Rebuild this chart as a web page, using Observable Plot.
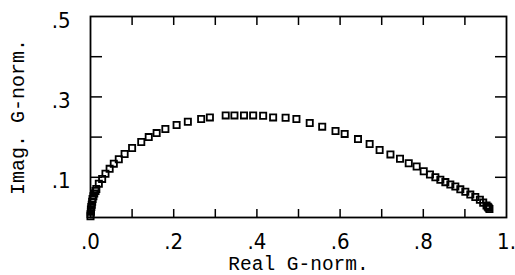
<!DOCTYPE html>
<html>
<head>
<meta charset="utf-8">
<script src="https://cdn.jsdelivr.net/npm/d3@7"></script>
<script src="https://cdn.jsdelivr.net/npm/@observablehq/plot@0.6"></script>
<style>
  html, body { margin: 0; padding: 0; background: #fff; }
  #chart svg { display: block; }
</style>
</head>
<body>
<div id="chart"></div>
<script>
// Real part of normalized G
const realG = [
  0.000, 0.000, 0.001, 0.001, 0.002, 0.003, 0.004, 0.005, 0.007, 0.009, 0.012,
  0.014, 0.020, 0.028, 0.036, 0.046, 0.056, 0.068, 0.082, 0.100, 0.122,
  0.140, 0.159, 0.180, 0.207, 0.234, 0.266, 0.287, 0.325, 0.346, 0.369,
  0.391, 0.415, 0.439, 0.469, 0.495, 0.527, 0.557, 0.589, 0.611, 0.643,
  0.671, 0.695, 0.721, 0.744, 0.765, 0.784, 0.801, 0.816, 0.829, 0.841,
  0.853, 0.865, 0.877, 0.889, 0.901, 0.913, 0.925, 0.936, 0.944, 0.952,
  0.955, 0.957, 0.959
];
// Imaginary part of normalized G
const imagG = [
  0.003, 0.008, 0.014, 0.020, 0.026, 0.032, 0.039, 0.046, 0.053, 0.060, 0.066,
  0.071, 0.084, 0.096, 0.109, 0.121, 0.134, 0.145, 0.158, 0.173, 0.188,
  0.200, 0.210, 0.220, 0.230, 0.238, 0.245, 0.249, 0.254, 0.254, 0.254,
  0.254, 0.253, 0.249, 0.248, 0.245, 0.235, 0.226, 0.215, 0.208, 0.195,
  0.183, 0.168, 0.157, 0.146, 0.135, 0.127, 0.115, 0.107, 0.100, 0.094,
  0.088, 0.082, 0.077, 0.070, 0.064, 0.057, 0.051, 0.044, 0.037, 0.030,
  0.027, 0.024, 0.021
];

const xTickVals = [0.1, 0.2, 0.3, 0.4, 0.5, 0.6, 0.7, 0.8, 0.9];
const yTickVals = [0.1, 0.2, 0.3, 0.4];
const xLabelVals = [0, 0.2, 0.4, 0.6, 0.8, 1.0];
const xLabelText = [".0", ".2", ".4", ".6", ".8", "1."];
const yLabelVals = [0.1, 0.3, 0.5];
const yLabelText = [".1", ".3", ".5"];
const xTitle = "Real G-norm.";
const yTitle = "Imag. G-norm.";

const points = realG.map((x, i) => ({x, y: imagG[i]}));

const labelFont = "'Liberation Sans Narrow', 'DejaVu Sans Condensed', 'Liberation Sans', sans-serif";
const titleFont = "'Liberation Mono', 'DejaVu Sans Mono', monospace";

const tickOpts = {fill: "none", stroke: "#000", strokeWidth: 1.5, label: null};

const chart = Plot.plot({
  width: 515,
  height: 275,
  marginLeft: 90,
  marginRight: 9,
  marginTop: 16,
  marginBottom: 58,
  style: {background: "#fff", color: "#000", overflow: "visible"},
  x: {domain: [0, 1]},
  y: {domain: [0, 0.5]},
  marks: [
    // inward ticks on all four sides
    Plot.axisX({anchor: "bottom", ticks: xTickVals, tickSize: -8, ...tickOpts}),
    Plot.axisX({anchor: "top", ticks: xTickVals, tickSize: -8, ...tickOpts}),
    Plot.axisY({anchor: "left", ticks: yTickVals, tickSize: -12, ...tickOpts}),
    Plot.axisY({anchor: "right", ticks: yTickVals, tickSize: -12, ...tickOpts}),
    // tick labels and axis titles
    Plot.axisX({anchor: "bottom", ticks: xLabelVals, tickSize: 0, tickPadding: 16,
      tickFormat: d => xLabelText[xLabelVals.indexOf(d)],
      label: xTitle, labelAnchor: "center", labelArrow: "none", labelOffset: 52,
      fontFamily: labelFont, fontSize: 22, fill: "#000"}),
    Plot.axisY({anchor: "left", ticks: yLabelVals, tickSize: 0, tickPadding: 20, dy: 4,
      tickFormat: d => yLabelText[yLabelVals.indexOf(d)], label: null,
      fontFamily: labelFont, fontSize: 22, fill: "#000"}),
    Plot.axisY({anchor: "left", ticks: [], tickSize: 0,
      label: yTitle, labelAnchor: "center", labelArrow: "none", labelOffset: 81,
      fontFamily: titleFont, fontSize: 20, fill: "#000"}),
    Plot.frame({stroke: "#000", strokeWidth: 1.8}),
    Plot.dot(points, {x: "x", y: "y", symbol: "square", r: 3.5, stroke: "#000", strokeWidth: 1.8, fill: "none"})
  ]
});

// axis titles use the monospace face
chart.querySelectorAll("text").forEach(t => {
  if (t.textContent === xTitle) {
    t.setAttribute("font-family", titleFont.replace(/'/g, ""));
    t.setAttribute("font-size", 19.5);
  } else if (t.textContent === yTitle) {
    t.setAttribute("font-family", titleFont.replace(/'/g, ""));
    t.setAttribute("font-size", 20);
  }
});

document.getElementById("chart").appendChild(chart);
</script>
</body>
</html>
